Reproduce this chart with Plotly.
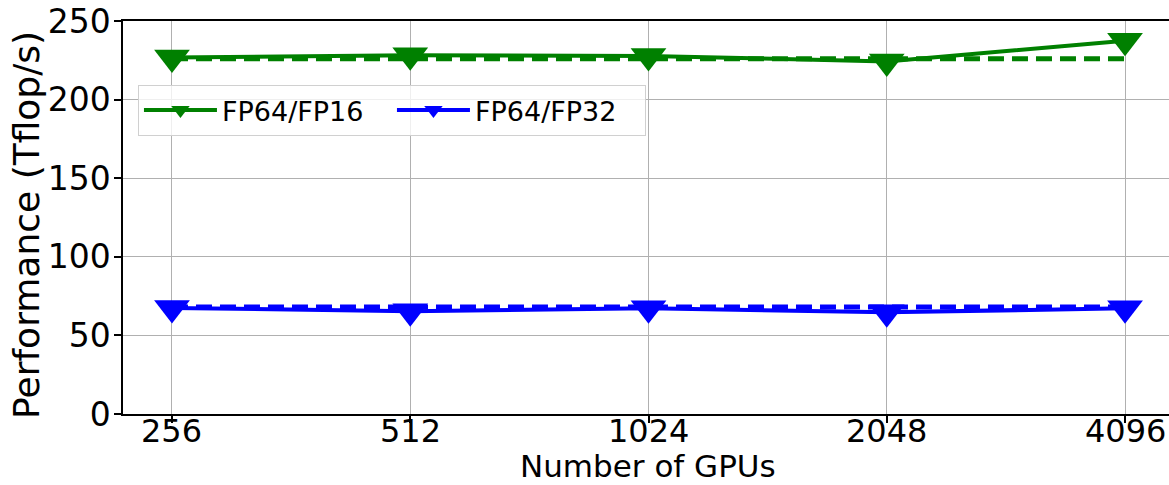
import math
import plotly.graph_objects as go

gpus = [256, 512, 1024, 2048, 4096]
tick_labels = ["256", "512", "1024", "2048", "4096"]
fp16_perf = [226.8, 228.2, 227.8, 224.3, 237.4]
fp32_perf = [67.5, 65.4, 67.2, 64.7, 67.2]
fp16_ideal = [226.0, 226.0, 226.0, 226.0, 226.0]
fp32_ideal = [68.0, 68.0, 68.0, 68.0, 68.0]
y_ticks = [0, 50, 100, 150, 200, 250]

GREEN = "#008000"
BLUE = "#0000ff"
FONT = "DejaVu Sans"

fig = go.Figure()

fig.add_trace(go.Scatter(x=gpus, y=fp16_ideal, mode="lines",
                         line=dict(color=GREEN, width=5, dash="16px,8px"),
                         showlegend=False, hoverinfo="skip"))
fig.add_trace(go.Scatter(x=gpus, y=fp32_ideal, mode="lines",
                         line=dict(color=BLUE, width=5, dash="16px,8px"),
                         showlegend=False, hoverinfo="skip"))
fig.add_trace(go.Scatter(x=gpus, y=fp16_perf, mode="lines+markers", name="FP64/FP16",
                         line=dict(color=GREEN, width=4),
                         marker=dict(symbol="triangle-down", size=31, color=GREEN)))
fig.add_trace(go.Scatter(x=gpus, y=fp32_perf, mode="lines+markers", name="FP64/FP32",
                         line=dict(color=BLUE, width=4),
                         marker=dict(symbol="triangle-down", size=31, color=BLUE)))

# x tick labels placed on the log axis (annotation x is log10 of the value)
tick_annotations = [
    dict(text=lab, xref="x", yref="paper", x=math.log10(g), y=-0.044,
         xanchor="center", yanchor="middle", showarrow=False, borderpad=0,
         font=dict(size=32, family=FONT, color="black"))
    for g, lab in zip(gpus, tick_labels)
]

fig.update_layout(
    width=1169, height=485,
    margin=dict(l=123, r=0, t=21, b=71, autoexpand=False),
    plot_bgcolor="white", paper_bgcolor="white",
    font=dict(family=FONT, color="black", size=28),
    legend=dict(orientation="h", x=0.0143, y=0.837, xanchor="left", yanchor="top",
                bgcolor="rgba(255,255,255,0.8)", bordercolor="#d0d0d0", borderwidth=1,
                font=dict(size=27, family=FONT), itemwidth=73,
                entrywidth=165, entrywidthmode="pixels",
                itemsizing="trace"),
    annotations=tick_annotations + [
        dict(text="Number of GPUs", xref="paper", yref="paper", x=0.502, y=-0.1807,
             xanchor="center", yanchor="bottom", showarrow=False, borderpad=0,
             font=dict(size=31, family=FONT, color="black")),
        dict(text="Performance (Tflop/s)", xref="paper", yref="paper", x=-0.0918, y=0.481,
             xanchor="center", yanchor="middle", showarrow=False, textangle=-90,
             font=dict(size=36, family=FONT, color="black")),
    ],
)

fig.update_xaxes(
    type="log", range=[0.30103 * 7.7944, 0.30103 * 12.1846],
    tickvals=gpus, showticklabels=False,
    ticks="outside", ticklen=7, tickwidth=1.5, tickcolor="black",
    showline=True, linecolor="black", linewidth=1.5, mirror=True,
    showgrid=True, gridcolor="#b0b0b0", gridwidth=1,
    zeroline=False, automargin=False,
)
fig.update_yaxes(
    range=[0, 250], tickvals=y_ticks,
    tickfont=dict(size=33, family=FONT),
    ticks="outside", ticklen=7, tickwidth=1.5, tickcolor="black",
    ticklabelstandoff=-3,
    showline=True, linecolor="black", linewidth=1.5, mirror=False,
    showgrid=True, gridcolor="#b0b0b0", gridwidth=1,
    zeroline=False, automargin=False,
)

fig.write_html("out.html")
